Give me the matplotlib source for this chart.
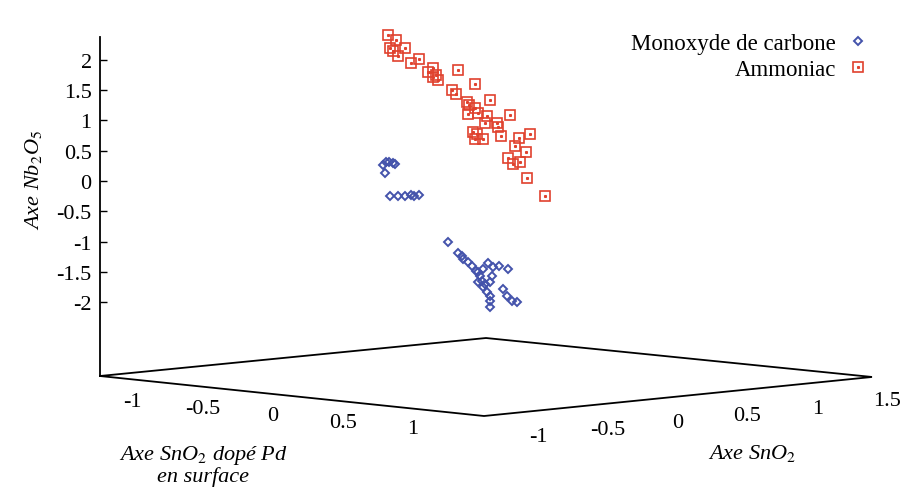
import matplotlib
matplotlib.use('Agg')
import matplotlib.pyplot as plt
from matplotlib.legend_handler import HandlerTuple

plt.rcParams['font.family'] = ['Liberation Serif', 'DejaVu Serif']
plt.rcParams['mathtext.fontset'] = 'stix'

# projected (screen) abscissa of each point and its Nb2O5 value
co_x = [383, 386, 389, 393, 395, 385,
        390, 398, 405, 411, 414, 419,
        448, 458, 462, 463, 468, 472, 476, 488, 493, 499, 508, 483, 480,
        492, 490, 478, 483, 487, 490, 503, 507, 512, 517, 490, 490, 478,
        482, 485]
co_z = [0.26, 0.31, 0.31, 0.30, 0.28, 0.13,
        -0.25, -0.25, -0.25, -0.23, -0.25, -0.23,
        -1.01, -1.19, -1.24, -1.29, -1.34, -1.40, -1.49, -1.35, -1.42, -1.40,
        -1.45, -1.45, -1.57, -1.57, -1.67, -1.67, -1.75, -1.83, -1.90, -1.78,
        -1.90, -1.98, -2.00, -1.98, -2.08, -1.50, -1.65, -1.70]

nh3_x = [388, 396, 390, 393, 405, 398, 411, 419, 433, 428, 433, 438, 436,
         458, 475, 452, 456, 467, 469, 475, 490, 468, 478, 487, 510, 485,
         497, 498, 473, 477, 475, 483, 501, 519, 530, 515, 526, 508, 513,
         520, 527, 545]
nh3_z = [2.41, 2.33, 2.19, 2.15, 2.19, 2.06, 1.95, 2.01, 1.86, 1.80, 1.72,
         1.67, 1.75, 1.83, 1.60, 1.50, 1.44, 1.30, 1.25, 1.20, 1.34, 1.11,
         1.12, 1.07, 1.09, 0.96, 0.96, 0.89, 0.81, 0.78, 0.69, 0.69, 0.74,
         0.71, 0.78, 0.58, 0.48, 0.38, 0.28, 0.31, 0.05, -0.25]

z_ticks = [2, 1.5, 1, 0.5, 0, -0.5, -1, -1.5, -2]
dope_ticks = [-1, -0.5, 0, 0.5, 1]
sno2_ticks = [-1, -0.5, 0, 0.5, 1, 1.5]

blue = '#4453ab'
red = '#e0412d'

fig = plt.figure(figsize=(9.01, 4.89), dpi=100)
ax = fig.add_axes([0, 0, 1, 1])
ax.set_xlim(0, 901)
ax.set_ylim(-5.066, 3.003)

# base plane (projected)
z_base = -3.218
base_x = [100, 486, 872, 484, 100]
base_z = [z_base, -2.591, -3.234, -3.878, z_base]
ax.plot(base_x, base_z, color='black', lw=1.3, solid_joinstyle='miter')

# vertical Nb2O5 axis
for s in ['top', 'right', 'bottom']:
    ax.spines[s].set_visible(False)
ax.spines['left'].set_position(('data', 100))
ax.spines['left'].set_bounds(z_base, 2.376)
ax.spines['left'].set_linewidth(1.3)
ax.set_xticks([])
ax.set_yticks(z_ticks)
ax.set_yticklabels([('%g' % t) for t in z_ticks])
ax.tick_params(axis='y', direction='in', length=5, width=1, pad=6,
               labelsize=16)

# tick labels along the base edges
for t in dope_ticks:
    ax.text(272.5 + 140.5 * t, (182 - (416.5 + 13.5 * t)) / 60.6, '%g' % t,
            fontsize=16, ha='center', va='center')
for t in sno2_ticks:
    ax.text(677.6 + 139.6 * t, (182 - (423.6 - 14.4 * t)) / 60.6, '%g' % t,
            fontsize=16, ha='center', va='center')

ax.text(33, 0.03, r'Axe Nb$_2$O$_5$', rotation=90, fontsize=16,
        style='italic', ha='center', va='center')
ax.text(203, -4.505, r'Axe SnO$_2$ dopé Pd', fontsize=16, style='italic',
        ha='center', va='center')
ax.text(203, -4.868, 'en surface', fontsize=16, style='italic',
        ha='center', va='center')
ax.text(752, -4.472, r'Axe SnO$_2$', fontsize=16, style='italic',
        ha='center', va='center')

# data
h1, = ax.plot(co_x, co_z, 'D', ms=4.5, mfc='none', mec=blue, mew=1.4,
              ls='none')
h2, = ax.plot(nh3_x, nh3_z, 's', ms=6.5, mfc='none', mec=red, mew=1.2,
              ls='none')
h3, = ax.plot(nh3_x, nh3_z, 's', ms=1.2, mfc=red, mec=red, ls='none')

ax.legend([h1, (h2, h3)], ['Monoxyde de carbone', 'Ammoniac'],
          handler_map={tuple: HandlerTuple(ndivide=1, pad=0)},
          loc='upper right', bbox_to_anchor=(869 / 901, 1 - 34 / 489),
          frameon=False, markerfirst=False, fontsize=16.5, handlelength=1,
          handletextpad=0.45, labelspacing=0.2, borderaxespad=0,
          borderpad=0)

fig.savefig('out.png', dpi=100)
